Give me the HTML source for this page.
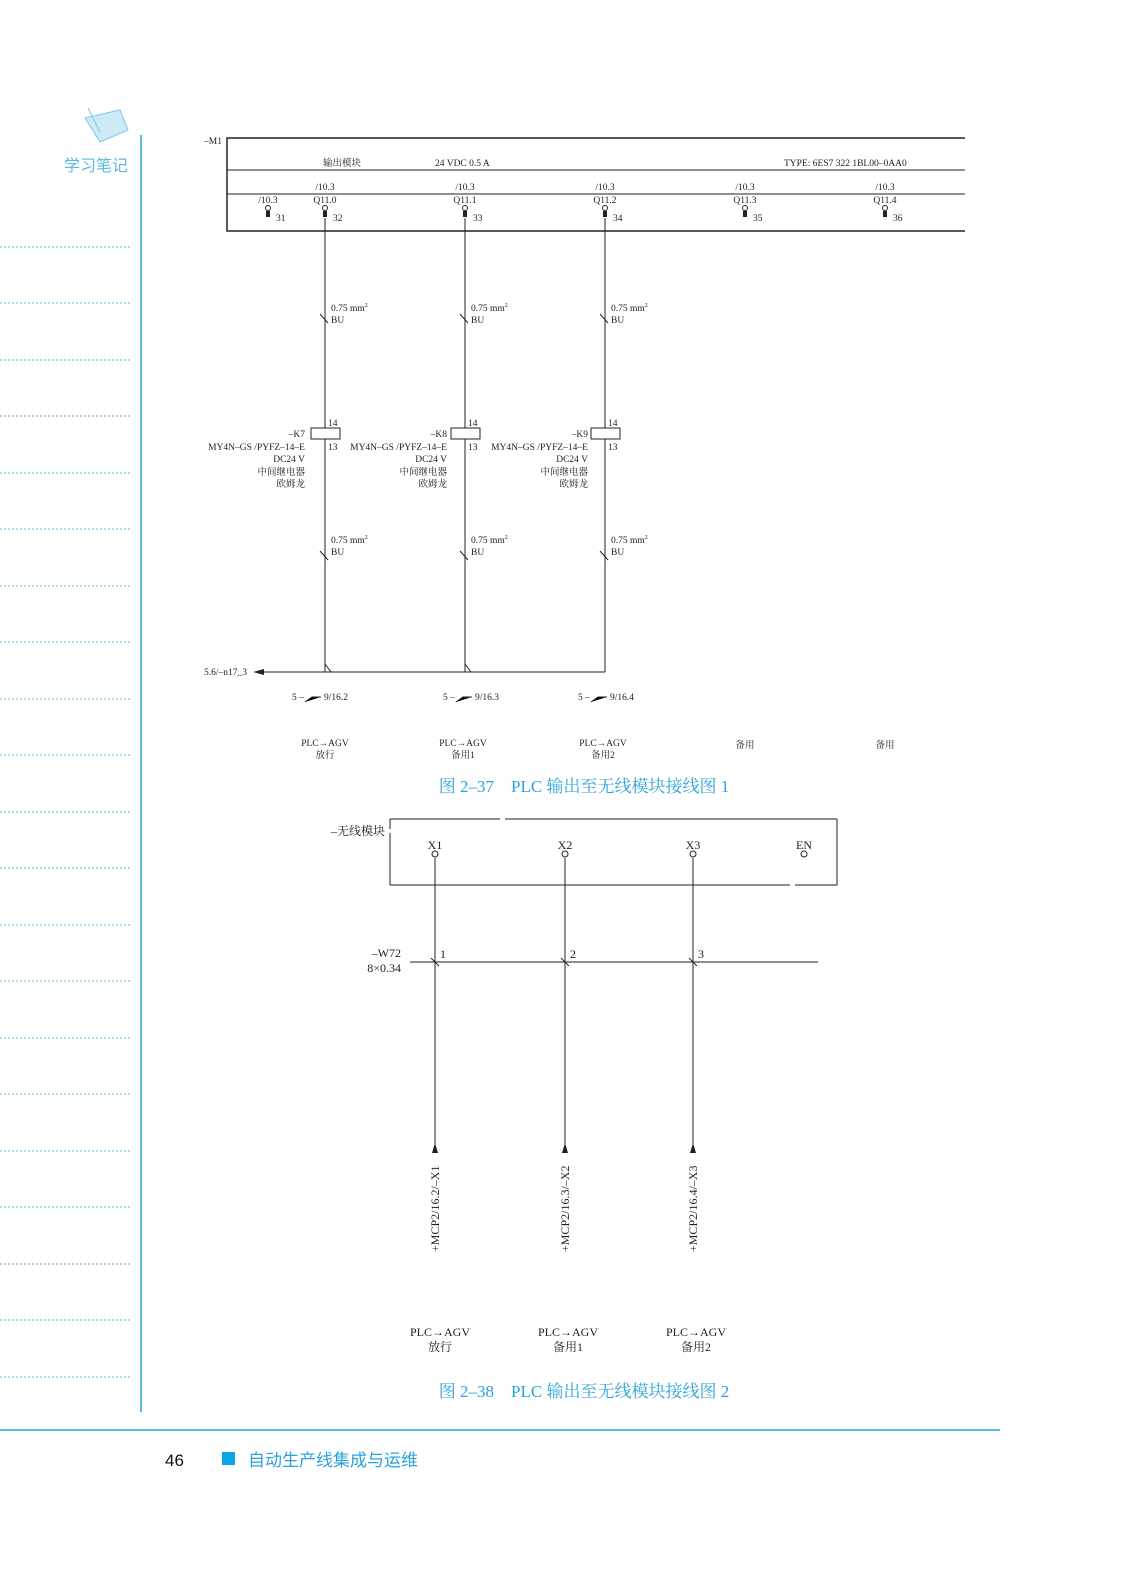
<!DOCTYPE html>
<html><head><meta charset="utf-8"><style>
body{margin:0;background:#fff}
svg{display:block}
.s{font-family:"Liberation Serif","Noto Serif CJK SC",serif;font-size:9.5px;fill:#222}
.c{font-family:"Liberation Serif","Noto Serif CJK SC",serif;font-size:17px;fill:#2aa3dc}
.m{font-family:"Liberation Serif","Noto Serif CJK SC",serif;font-size:12px;fill:#222}
</style></head><body>
<svg width="1127" height="1571" viewBox="0 0 1127 1571" xmlns="http://www.w3.org/2000/svg">
<!-- sidebar -->
<path d="M85 118 L120 110 L128 130 L100 142 Z" fill="#cfeaf7" stroke="#7cc6e8" stroke-width="1"/>
<line x1="88" y1="108" x2="100" y2="132" stroke="#7cc6e8"/>
<text x="64" y="171" font-family="Liberation Sans,'Noto Sans CJK SC',sans-serif" font-size="16" fill="#5bb8e0">学习笔记</text>
<line x1="141" y1="135" x2="141" y2="1412" stroke="#2aa3dc" stroke-width="1.5"/>
<g stroke="#5bb8e0" stroke-dasharray="2,2" stroke-width="1">
<line x1="0" y1="247" x2="130" y2="247"/><line x1="0" y1="303" x2="130" y2="303"/><line x1="0" y1="360" x2="130" y2="360"/><line x1="0" y1="416" x2="130" y2="416"/><line x1="0" y1="473" x2="130" y2="473"/><line x1="0" y1="529" x2="130" y2="529"/><line x1="0" y1="586" x2="130" y2="586"/><line x1="0" y1="642" x2="130" y2="642"/><line x1="0" y1="699" x2="130" y2="699"/><line x1="0" y1="755" x2="130" y2="755"/><line x1="0" y1="812" x2="130" y2="812"/><line x1="0" y1="868" x2="130" y2="868"/><line x1="0" y1="925" x2="130" y2="925"/><line x1="0" y1="981" x2="130" y2="981"/><line x1="0" y1="1038" x2="130" y2="1038"/><line x1="0" y1="1094" x2="130" y2="1094"/><line x1="0" y1="1151" x2="130" y2="1151"/><line x1="0" y1="1207" x2="130" y2="1207"/><line x1="0" y1="1264" x2="130" y2="1264"/><line x1="0" y1="1320" x2="130" y2="1320"/><line x1="0" y1="1377" x2="130" y2="1377"/>
</g>
<!-- footer -->
<line x1="0" y1="1430" x2="1000" y2="1430" stroke="#2aa3dc" stroke-width="1.5"/>
<text x="165" y="1466" font-family="Liberation Sans,sans-serif" font-size="17" fill="#111">46</text>
<rect x="222" y="1452" width="13" height="13" fill="#0aa5e8"/>
<text x="248" y="1466" font-family="Liberation Sans,'Noto Sans CJK SC',sans-serif" font-size="17" fill="#2aa3dc">自动生产线集成与运维</text>

<!-- diagram 1 -->
<g stroke="#222" fill="none">
<polyline points="965,138 227,138 227,231 965,231" stroke-width="1.5"/>
<line x1="227" y1="170" x2="965" y2="170"/>
<line x1="227" y1="194" x2="965" y2="194"/>
<line x1="325" y1="218" x2="325" y2="672"/>
<line x1="465" y1="218" x2="465" y2="672"/>
<line x1="605" y1="218" x2="605" y2="672"/>
<line x1="264" y1="672" x2="605" y2="672"/>
<line x1="325" y1="664" x2="331" y2="672"/><line x1="465" y1="664" x2="471" y2="672"/>
</g>
<polygon points="253,672 264,669 264,675" fill="#222"/>
<text class="s" x="204" y="144">–M1</text>
<text class="s" x="323" y="166">输出模块</text>
<text class="s" x="435" y="166">24 VDC 0.5 A</text>
<text class="s" x="784" y="166">TYPE: 6ES7 322 1BL00–0AA0</text>
<g>
<text class="s" x="268" y="203" text-anchor="middle">/10.3</text>
<circle cx="268" cy="208" r="2.5" fill="#fff" stroke="#222"/><rect x="266" y="211" width="4" height="6" fill="#222"/><text class="s" x="276" y="221">31</text>
</g>
<g id="t">
</g>
<g class="s">
<text class="s" x="325" y="190" text-anchor="middle">/10.3</text><text class="s" x="325" y="203" text-anchor="middle">Q11.0</text><circle cx="325" cy="208" r="2.5" fill="#fff" stroke="#222"/><rect x="323" y="211" width="4" height="6" fill="#222"/><text class="s" x="333" y="221">32</text>
<text class="s" x="465" y="190" text-anchor="middle">/10.3</text><text class="s" x="465" y="203" text-anchor="middle">Q11.1</text><circle cx="465" cy="208" r="2.5" fill="#fff" stroke="#222"/><rect x="463" y="211" width="4" height="6" fill="#222"/><text class="s" x="473" y="221">33</text>
<text class="s" x="605" y="190" text-anchor="middle">/10.3</text><text class="s" x="605" y="203" text-anchor="middle">Q11.2</text><circle cx="605" cy="208" r="2.5" fill="#fff" stroke="#222"/><rect x="603" y="211" width="4" height="6" fill="#222"/><text class="s" x="613" y="221">34</text>
<text class="s" x="745" y="190" text-anchor="middle">/10.3</text><text class="s" x="745" y="203" text-anchor="middle">Q11.3</text><circle cx="745" cy="208" r="2.5" fill="#fff" stroke="#222"/><rect x="743" y="211" width="4" height="6" fill="#222"/><text class="s" x="753" y="221">35</text>
<text class="s" x="885" y="190" text-anchor="middle">/10.3</text><text class="s" x="885" y="203" text-anchor="middle">Q11.4</text><circle cx="885" cy="208" r="2.5" fill="#fff" stroke="#222"/><rect x="883" y="211" width="4" height="6" fill="#222"/><text class="s" x="893" y="221">36</text>
</g>
<!-- wires and relays -->
<g stroke="#222"><line x1="320" y1="314" x2="328" y2="323"/><line x1="460" y1="314" x2="468" y2="323"/><line x1="600" y1="314" x2="608" y2="323"/>
<line x1="320" y1="551" x2="328" y2="560"/><line x1="460" y1="551" x2="468" y2="560"/><line x1="600" y1="551" x2="608" y2="560"/></g>
<g class="s">
<text class="s" x="331" y="311">0.75 mm<tspan font-size="6" dy="-4">2</tspan></text><text class="s" x="331" y="323">BU</text>
<text class="s" x="471" y="311">0.75 mm<tspan font-size="6" dy="-4">2</tspan></text><text class="s" x="471" y="323">BU</text>
<text class="s" x="611" y="311">0.75 mm<tspan font-size="6" dy="-4">2</tspan></text><text class="s" x="611" y="323">BU</text>
<text class="s" x="331" y="543">0.75 mm<tspan font-size="6" dy="-4">2</tspan></text><text class="s" x="331" y="555">BU</text>
<text class="s" x="471" y="543">0.75 mm<tspan font-size="6" dy="-4">2</tspan></text><text class="s" x="471" y="555">BU</text>
<text class="s" x="611" y="543">0.75 mm<tspan font-size="6" dy="-4">2</tspan></text><text class="s" x="611" y="555">BU</text>
</g>
<g fill="#fff" stroke="#222"><rect x="311" y="428" width="29" height="11"/><rect x="451" y="428" width="29" height="11"/><rect x="591" y="428" width="29" height="11"/></g>
<g>
<text class="s" x="328" y="426">14</text><text class="s" x="328" y="450">13</text>
<text class="s" x="468" y="426">14</text><text class="s" x="468" y="450">13</text>
<text class="s" x="608" y="426">14</text><text class="s" x="608" y="450">13</text>
<text class="s" x="305" y="437" text-anchor="end">–K7</text><text class="s" x="305" y="450" text-anchor="end">MY4N–GS /PYFZ–14–E</text><text class="s" x="305" y="462" text-anchor="end">DC24 V</text><text class="s" x="305" y="475" text-anchor="end">中间继电器</text><text class="s" x="305" y="487" text-anchor="end">欧姆龙</text>
<text class="s" x="447" y="437" text-anchor="end">–K8</text><text class="s" x="447" y="450" text-anchor="end">MY4N–GS /PYFZ–14–E</text><text class="s" x="447" y="462" text-anchor="end">DC24 V</text><text class="s" x="447" y="475" text-anchor="end">中间继电器</text><text class="s" x="447" y="487" text-anchor="end">欧姆龙</text>
<text class="s" x="588" y="437" text-anchor="end">–K9</text><text class="s" x="588" y="450" text-anchor="end">MY4N–GS /PYFZ–14–E</text><text class="s" x="588" y="462" text-anchor="end">DC24 V</text><text class="s" x="588" y="475" text-anchor="end">中间继电器</text><text class="s" x="588" y="487" text-anchor="end">欧姆龙</text>
<text class="s" x="204" y="675">5.6/–n17_3</text>
<text class="s" x="292" y="700">5 –</text><text class="s" x="324" y="700">9/16.2</text>
<text class="s" x="443" y="700">5 –</text><text class="s" x="475" y="700">9/16.3</text>
<text class="s" x="578" y="700">5 –</text><text class="s" x="610" y="700">9/16.4</text>
</g>
<g stroke="#222"><polyline points="305,702 312,697 321,697"/><polyline points="456,702 463,697 472,697"/><polyline points="591,702 598,697 607,697"/></g>
<g text-anchor="middle">
<text class="s" x="325" y="746" text-anchor="middle">PLC→AGV</text><text class="s" x="325" y="758" text-anchor="middle">放行</text>
<text class="s" x="463" y="746" text-anchor="middle">PLC→AGV</text><text class="s" x="463" y="758" text-anchor="middle">备用1</text>
<text class="s" x="603" y="746" text-anchor="middle">PLC→AGV</text><text class="s" x="603" y="758" text-anchor="middle">备用2</text>
<text class="s" x="745" y="748" text-anchor="middle">备用</text><text class="s" x="885" y="748" text-anchor="middle">备用</text>
</g>
<text class="c" x="584" y="792" text-anchor="middle">图 2–37　PLC 输出至无线模块接线图 1</text>

<!-- diagram 2 -->
<g stroke="#222" fill="none">
<polyline points="390,829 390,819 500,819"/><line x1="505" y1="819" x2="837" y2="819"/><polyline points="837,819 837,885 795,885"/><line x1="790" y1="885" x2="390" y2="885"/><line x1="390" y1="885" x2="390" y2="833"/>
<line x1="435" y1="858" x2="435" y2="1148"/><line x1="565" y1="858" x2="565" y2="1148"/><line x1="693" y1="858" x2="693" y2="1148"/>
<line x1="410" y1="962" x2="818" y2="962"/>
<line x1="431" y1="958" x2="439" y2="966"/><line x1="561" y1="958" x2="569" y2="966"/><line x1="689" y1="958" x2="697" y2="966"/>
</g>
<g fill="#fff" stroke="#222"><circle cx="435" cy="854" r="3"/><circle cx="565" cy="854" r="3"/><circle cx="693" cy="854" r="3"/><circle cx="804" cy="854" r="3"/></g>
<g fill="#222"><polygon points="435,1143 432,1153 438,1153"/><polygon points="565,1143 562,1153 568,1153"/><polygon points="693,1143 690,1153 696,1153"/></g>
<text class="m" x="385" y="835" text-anchor="end">–无线模块</text>
<text class="m" x="435" y="849" text-anchor="middle">X1</text><text class="m" x="565" y="849" text-anchor="middle">X2</text><text class="m" x="693" y="849" text-anchor="middle">X3</text><text class="m" x="804" y="849" text-anchor="middle">EN</text>
<text class="m" x="440" y="958">1</text><text class="m" x="570" y="958">2</text><text class="m" x="698" y="958">3</text>
<text class="m" x="401" y="957" text-anchor="end">–W72</text><text class="m" x="401" y="972" text-anchor="end">8×0.34</text>
<text class="m" transform="translate(439,1252) rotate(-90)">+MCP2/16.2/–X1</text>
<text class="m" transform="translate(569,1252) rotate(-90)">+MCP2/16.3/–X2</text>
<text class="m" transform="translate(697,1252) rotate(-90)">+MCP2/16.4/–X3</text>
<text class="m" x="440" y="1336" text-anchor="middle">PLC→AGV</text><text class="m" x="440" y="1351" text-anchor="middle">放行</text>
<text class="m" x="568" y="1336" text-anchor="middle">PLC→AGV</text><text class="m" x="568" y="1351" text-anchor="middle">备用1</text>
<text class="m" x="696" y="1336" text-anchor="middle">PLC→AGV</text><text class="m" x="696" y="1351" text-anchor="middle">备用2</text>
<text class="c" x="584" y="1397" text-anchor="middle">图 2–38　PLC 输出至无线模块接线图 2</text>
</svg>
</body></html>
